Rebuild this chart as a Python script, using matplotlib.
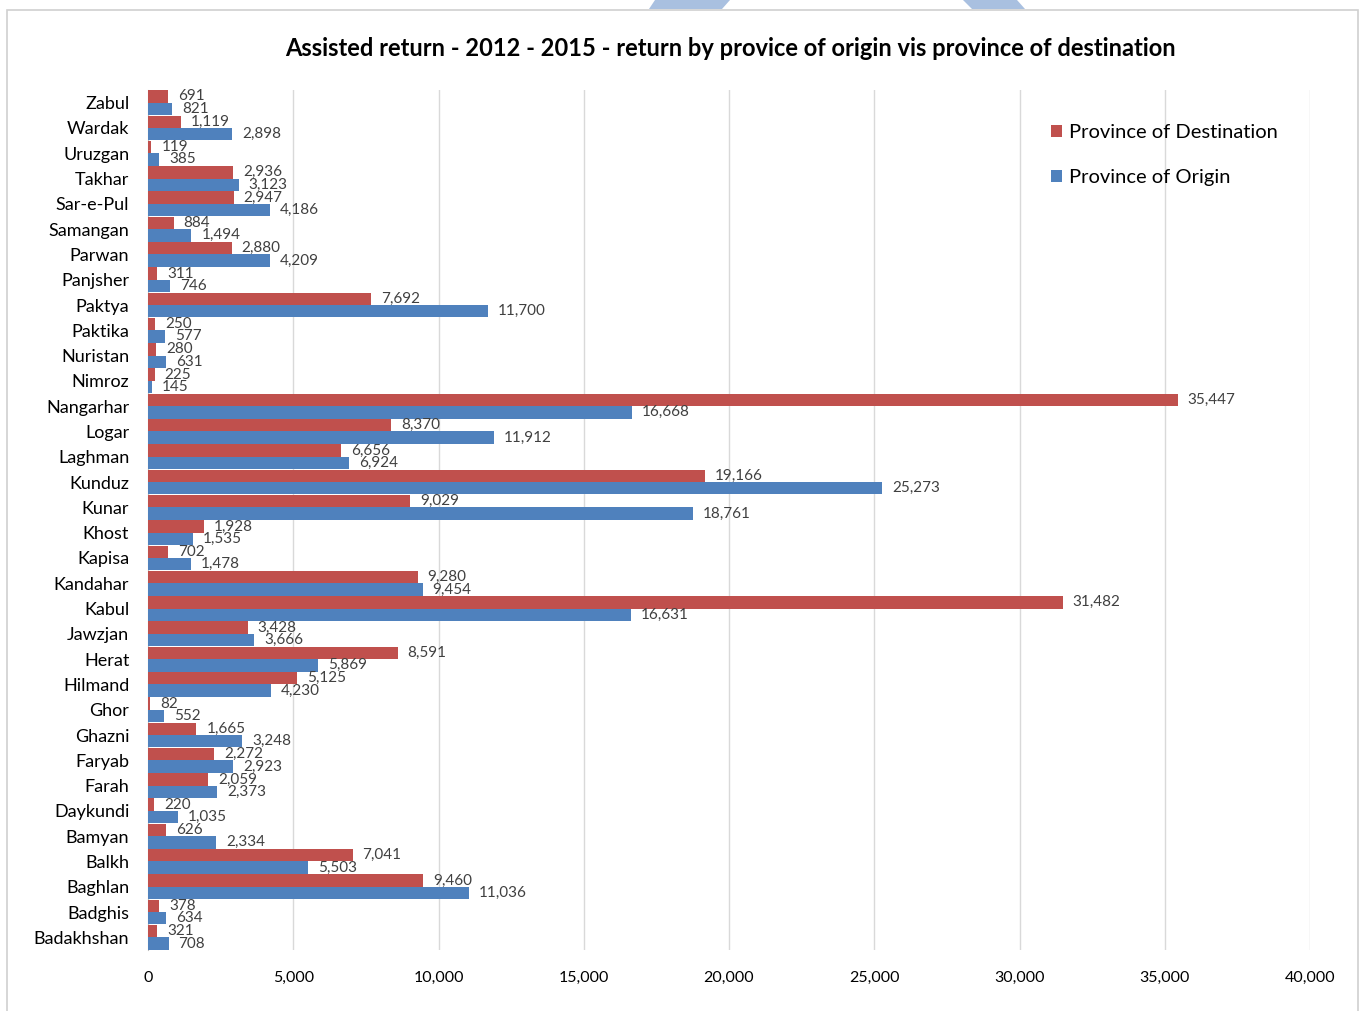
import matplotlib

matplotlib.use("Agg")
import matplotlib.pyplot as plt
from matplotlib.patches import Polygon, Rectangle
from matplotlib.ticker import FuncFormatter, MultipleLocator
import numpy as np

RED = "#c0504d"
BLUE = "#4f81bd"
GRID = "#d9d9d9"
LABEL = "#404040"
FONT = ["Lato", "DejaVu Sans"]

provinces = [
    "Zabul", "Wardak", "Uruzgan", "Takhar", "Sar-e-Pul", "Samangan", "Parwan",
    "Panjsher", "Paktya", "Paktika", "Nuristan", "Nimroz", "Nangarhar", "Logar",
    "Laghman", "Kunduz", "Kunar", "Khost", "Kapisa", "Kandahar", "Kabul",
    "Jawzjan", "Herat", "Hilmand", "Ghor", "Ghazni", "Faryab", "Farah",
    "Daykundi", "Bamyan", "Balkh", "Baghlan", "Badghis", "Badakhshan",
]
destination = [
    691, 1119, 119, 2936, 2947, 884, 2880, 311, 7692, 250, 280, 225, 35447,
    8370, 6656, 19166, 9029, 1928, 702, 9280, 31482, 3428, 8591, 5125, 82,
    1665, 2272, 2059, 220, 626, 7041, 9460, 378, 321,
]
origin = [
    821, 2898, 385, 3123, 4186, 1494, 4209, 746, 11700, 577, 631, 145, 16668,
    11912, 6924, 25273, 18761, 1535, 1478, 9454, 16631, 3666, 5869, 4230, 552,
    3248, 2923, 2373, 1035, 2334, 5503, 11036, 634, 708,
]

W, H = 1363, 1011
fig = plt.figure(figsize=(W / 100, H / 100), dpi=100)
fig.patch.set_facecolor("white")

# chart frame and the bits of slide artwork poking in at the top
fig.add_artist(Rectangle((7 / W, -0.05), (1358 - 7) / W, 1.05 - 10 / H,
                         transform=fig.transFigure, fill=False,
                         edgecolor="#d0d0d0", linewidth=1.2))
for pts in ([(655, 0), (730, 0), (722, 9), (649, 9)],
            [(963, 0), (1017, 0), (1025, 9), (972, 9)]):
    fig.add_artist(Polygon([(x / W, 1 - y / H) for x, y in pts], closed=True,
                           transform=fig.transFigure, facecolor="#a9c0e0",
                           edgecolor="none"))

ax = fig.add_axes([148 / W, 1 - 950 / H, (1310 - 148) / W, (950 - 90) / H])

y = np.arange(len(provinces))
bh = 0.49
bars_d = ax.barh(y - bh / 2, destination, height=bh, color=RED,
                 label="Province of Destination", zorder=3)
bars_o = ax.barh(y + bh / 2, origin, height=bh, color=BLUE,
                 label="Province of Origin", zorder=3)

for bars, vals in ((bars_d, destination), (bars_o, origin)):
    for b, v in zip(bars, vals):
        ax.annotate(f"{v:,}", (b.get_width(), b.get_y() + b.get_height() / 2),
                    xytext=(10, 0), textcoords="offset pixels",
                    ha="left", va="center", fontsize=11, color=LABEL,
                    family=FONT, zorder=4)

ax.set_xlim(0, 40000)
ax.set_ylim(len(provinces) - 0.5, -0.5)
ax.xaxis.set_major_locator(MultipleLocator(5000))
ax.xaxis.set_major_formatter(FuncFormatter(lambda v, _: f"{int(v):,}"))
ax.grid(axis="x", color=GRID, linewidth=1, zorder=0)
ax.set_yticks(y)
ax.set_yticklabels(provinces, family=FONT, fontsize=13)
for t in ax.get_xticklabels():
    t.set_family(FONT)
    t.set_fontsize(11.5)
ax.tick_params(axis="y", length=0, pad=13.5)
ax.tick_params(axis="x", length=0, pad=15)
for side in ("top", "right", "bottom"):
    ax.spines[side].set_visible(False)
ax.spines["left"].set_color("#bfbfbf")

fig.text(730 / W, 1 - 49 / H,
         "Assisted return - 2012 - 2015 - return by provice of origin vis province of destination",
         ha="center", va="center", fontsize=17, fontweight="bold", family=FONT)

ax.legend(loc="upper left", bbox_to_anchor=((1033 - 148) / (1310 - 148), 1 - (106 - 90) / 860),
          frameon=False, prop={"family": FONT, "size": 14.5}, handlelength=0.55,
          handleheight=0.55, handletextpad=0.35, labelspacing=1.4)

fig.savefig("out.png", dpi=100, facecolor="white")
